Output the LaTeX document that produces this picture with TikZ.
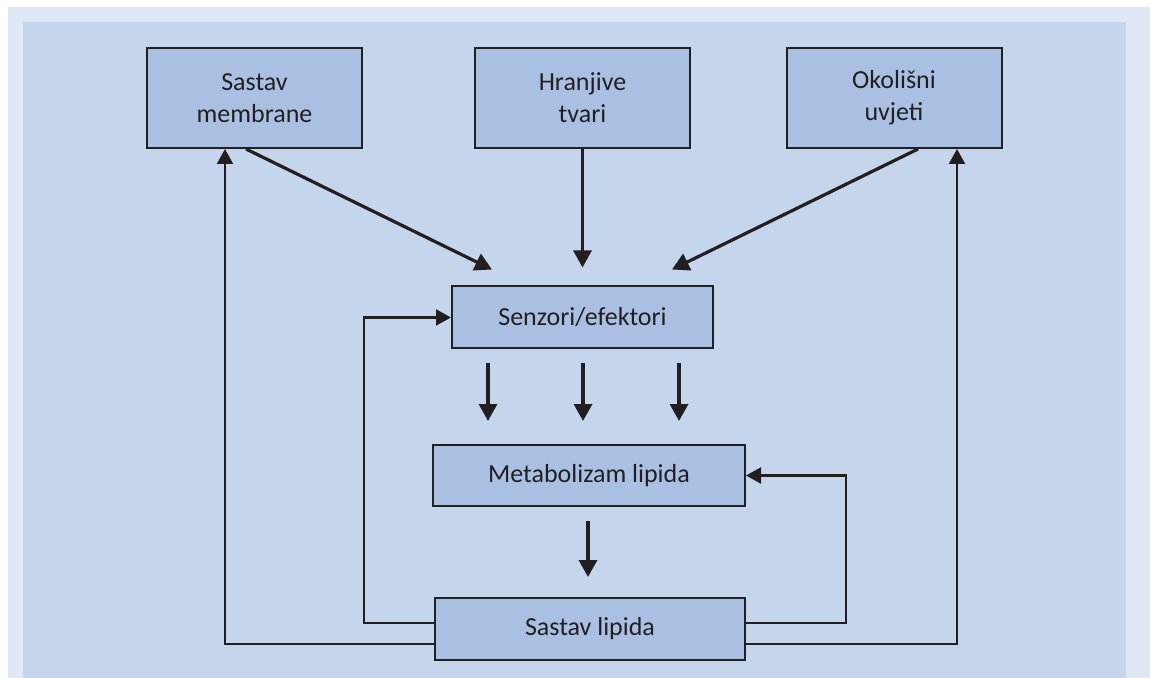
\documentclass[tikz,border=0pt]{standalone}
\usepackage{fontspec}
\setmainfont{Carlito}
\usetikzlibrary{positioning, calc, arrows.meta}
\definecolor{outerbg}{HTML}{E0E8F5}
\definecolor{innerbg}{HTML}{C5D5EC}
\definecolor{boxfill}{HTML}{AAC0E2}
\definecolor{ink}{HTML}{231F20}
\begin{document}
\begin{tikzpicture}[x=0.5pt, y=-0.5pt,
          box/.style={rectangle, draw=ink, line width=1pt, fill=boxfill, text=ink, align=center,
            font=\fontsize{13pt}{16pt}\selectfont, inner sep=2pt},
          topbox/.style={box, minimum width=107.5pt, minimum height=50pt},
          midbox/.style={box, minimum height=31pt},
          thickarr/.style={-{Triangle[length=8.5pt, width=9pt]}, draw=ink, line width=1.6pt},
          thinarr/.style={-{Triangle[length=7.5pt, width=8pt]}, draw=ink, line width=1.1pt}
        ]
        \useasboundingbox (0,0) rectangle (1150,678);
        \fill[white] (0,0) rectangle (1150,678);
        \fill[outerbg] (8,7) rectangle (1150,678);
        \fill[innerbg] (23,22) rectangle (1126,678);
        % top row
        \node[topbox] (memb) at (254.5,98) {Sastav\\membrane};
        \node[topbox] (hran) at (582.5,98) {Hranjive\\tvari};
        \node[topbox] (okol) at (894,98) {Okolišni\\uvjeti};
        % middle and bottom
        \node[midbox, minimum width=130.5pt] (senz) at (582.5,317.5) {Senzori/efektori};
        \node[midbox, minimum width=156pt, minimum height=30.5pt] (metab) at (589,475.5) {Metabolizam lipida};
        \node[midbox, minimum width=155pt] (lip) at (590,629) {Sastav lipida};
        % inputs to sensors
        \draw[thickarr] ([xshift=-4.25pt]memb.south) -- ([xshift=-45.25pt, yshift=8pt]senz.north);
        \draw[thickarr, shorten >=9pt] (hran.south) -- (hran.south |- senz.north);
        \draw[thickarr] ([xshift=12pt]okol.south) -- ([xshift=44.75pt, yshift=8pt]senz.north);
        \foreach \dx in {-47.25, 0.25, 48.25} {
          \draw[thickarr, shorten <=7pt, shorten >=11.5pt] ([xshift=\dx pt]senz.south) -- ([xshift=\dx pt]senz.south |- metab.north);
        }
        \draw[thickarr, shorten <=7pt, shorten >=10pt] ([xshift=-0.5pt]metab.south) -- ([xshift=-0.5pt]metab.south |- lip.north);
        % feedback loops
        \draw[thinarr] ([yshift=3pt]lip.west) -- ++(-35pt,0) |- (senz.west);
        \draw[thinarr] ([yshift=-7.5pt]lip.west) -| ([xshift=-14.75pt]memb.south);
        \draw[thinarr] ([yshift=3pt]lip.east) -- ++(50pt,0) |- (metab.east);
        \draw[thinarr] ([yshift=-7.5pt]lip.east) -| ([xshift=31.5pt]okol.south);
      \end{tikzpicture}
\end{document}
